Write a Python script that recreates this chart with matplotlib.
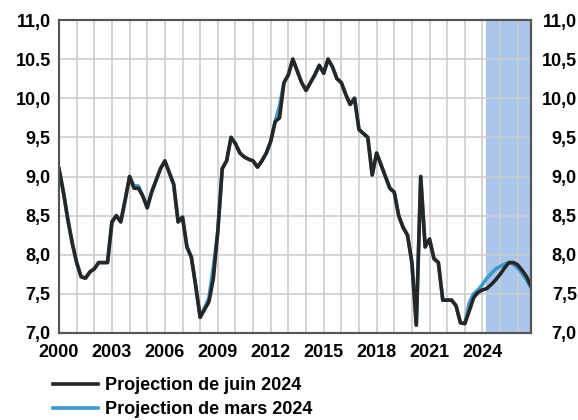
import numpy as np
import matplotlib
matplotlib.use("Agg")
import matplotlib.pyplot as plt

plt.rcParams['font.family'] = ['Liberation Sans', 'DejaVu Sans']
plt.rcParams['font.weight'] = 'bold'

# Taux de chomage trimestriel (%), 2000T1 -> 2026T4
juin_2024 = [
    9.1, 8.8, 8.45, 8.15,      # 2000
    7.9, 7.72, 7.7, 7.78,      # 2001
    7.82, 7.9, 7.9, 7.9,       # 2002
    8.42, 8.5, 8.42, 8.7,      # 2003
    9.0, 8.85, 8.85, 8.75,     # 2004
    8.6, 8.8, 8.95, 9.1,       # 2005
    9.2, 9.05, 8.9, 8.42,      # 2006
    8.48, 8.1, 7.97, 7.6,      # 2007
    7.2, 7.3, 7.4, 7.7,        # 2008
    8.3, 9.1, 9.2, 9.5,        # 2009
    9.42, 9.3, 9.25, 9.22,     # 2010
    9.2, 9.12, 9.2, 9.3,       # 2011
    9.45, 9.7, 9.75, 10.2,     # 2012
    10.3, 10.5, 10.35, 10.2,   # 2013
    10.1, 10.2, 10.3, 10.42,   # 2014
    10.32, 10.5, 10.4, 10.25,  # 2015
    10.2, 10.05, 9.92, 10.0,   # 2016
    9.6, 9.55, 9.5, 9.02,      # 2017
    9.3, 9.15, 9.0, 8.85,      # 2018
    8.8, 8.5, 8.35, 8.25,      # 2019
    7.9, 7.1, 9.0, 8.1,        # 2020
    8.2, 7.95, 7.9, 7.42,      # 2021
    7.42, 7.42, 7.35, 7.13,    # 2022
    7.12, 7.28, 7.45, 7.52,    # 2023
    7.55, 7.57, 7.62, 7.68,    # 2024
    7.75, 7.83, 7.9, 7.9,      # 2025
    7.87, 7.8, 7.72, 7.6,      # 2026
]

mars_2024 = [
    9.1, 8.8, 8.45, 8.15,
    7.9, 7.72, 7.7, 7.78,
    7.82, 7.9, 7.9, 7.9,
    8.42, 8.5, 8.42, 8.7,
    9.0, 8.88, 8.88, 8.75,
    8.6, 8.8, 8.95, 9.1,
    9.2, 9.05, 8.9, 8.42,
    8.48, 8.1, 7.97, 7.6,
    7.2, 7.32, 7.45, 7.85,
    8.3, 9.1, 9.2, 9.5,
    9.42, 9.3, 9.25, 9.22,
    9.2, 9.12, 9.2, 9.3,
    9.45, 9.7, 9.9, 10.2,
    10.3, 10.5, 10.35, 10.2,
    10.1, 10.2, 10.3, 10.42,
    10.32, 10.5, 10.4, 10.25,
    10.2, 10.05, 9.92, 10.0,
    9.6, 9.55, 9.5, 9.02,
    9.3, 9.15, 9.0, 8.85,
    8.8, 8.5, 8.35, 8.25,
    7.9, 7.1, 9.0, 8.1,
    8.2, 7.95, 7.9, 7.42,
    7.42, 7.42, 7.35, 7.13,
    7.12, 7.38, 7.5, 7.55,
    7.62, 7.7, 7.76, 7.82,
    7.85, 7.88, 7.9, 7.88,
    7.83, 7.76, 7.68, 7.58,
]

debut_projection = 2024.2
annees_ticks = [2000, 2003, 2006, 2009, 2012, 2015, 2018, 2021, 2024]
y_ticks = [7.0, 7.5, 8.0, 8.5, 9.0, 9.5, 10.0, 10.5, 11.0]
y_labels_gauche = ["7,0", "7,5", "8,0", "8,5", "9,0", "9,5", "10,0", "10.5", "11,0"]
y_labels_droite = ["7,0", "7,5", "8,0", "8,5", "9,0", "9,5", "10,0", "10,5", "11,0"]

dates = 2000 + np.arange(len(juin_2024)) / 4

fig = plt.figure(figsize=(5.78, 4.2), dpi=100)
ax = fig.add_axes([59 / 578, 87 / 420, 472 / 578, 313 / 420])

ax.axvspan(debut_projection, dates[-1], color="#aac6ec", lw=0, zorder=0)

ax.plot(dates, mars_2024, color="#3a98cc", lw=2.6, zorder=3, label="Projection de mars 2024")
ax.plot(dates, juin_2024, color="#262626", lw=2.6, zorder=4, label="Projection de juin 2024")

ax.set_xlim(2000, dates[-1])
ax.set_ylim(7.0, 11.0)
ax.set_xticks(np.arange(2000, 2027), minor=True)
ax.set_xticks(annees_ticks)
ax.set_xticklabels([str(a) for a in annees_ticks])
ax.set_yticks(y_ticks)
ax.set_yticklabels(y_labels_gauche)
ax.grid(True, which="both", axis="x", color="#cccccc", lw=1.2, zorder=1)
ax.grid(True, which="major", axis="y", color="#cccccc", lw=1.2, zorder=1)
ax.set_axisbelow(True)
ax.tick_params(which="both", length=0, labelsize=13)
ax.tick_params(axis="x", pad=8)
ax.tick_params(axis="y", pad=6)

ax2 = ax.twinx()
ax2.set_ylim(7.0, 11.0)
ax2.set_yticks(y_ticks)
ax2.set_yticklabels(y_labels_droite, ha="right")
ax2.tick_params(length=0, labelsize=13, pad=33)

for a in (ax, ax2):
    for s in a.spines.values():
        s.set_color("#555555")
        s.set_linewidth(1.5)

handles, labels = ax.get_legend_handles_labels()
fig.legend(handles[::-1], labels[::-1], loc="upper left", bbox_to_anchor=(42 / 578, 1 - 366 / 420),
           frameon=False, fontsize=13, handlelength=2.5, handletextpad=0.4, labelspacing=0.42,
           borderaxespad=0.2)

fig.savefig("out.png", dpi=100)
